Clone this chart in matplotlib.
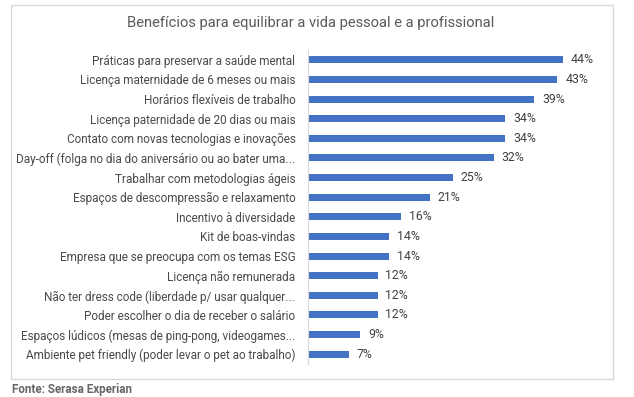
import matplotlib.pyplot as plt
from matplotlib.patches import Rectangle

plt.rcParams['font.family'] = ['Roboto', 'DejaVu Sans']

# dados
categorias = [
    "Práticas para preservar a saúde mental",
    "Licença maternidade de 6 meses ou mais",
    "Horários flexíveis de trabalho",
    "Licença paternidade de 20 dias ou mais",
    "Contato com novas tecnologias e inovações",
    "Day-off (folga no dia do aniversário ou ao bater uma...",
    "Trabalhar com metodologias ágeis",
    "Espaços de descompressão e relaxamento",
    "Incentivo à diversidade",
    "Kit de boas-vindas",
    "Empresa que se preocupa com os temas ESG",
    "Licença não remunerada",
    "Não ter dress code (liberdade p/ usar qualquer...",
    "Poder escolher o dia de receber o salário",
    "Espaços lúdicos (mesas de ping-pong, videogames...",
    "Ambiente pet friendly (poder levar o pet ao trabalho)",
]
valores = [44, 43, 39, 34, 34, 32, 25, 21, 16, 14, 14, 12, 12, 12, 9, 7]

W, H = 634, 397
fig = plt.figure(figsize=(W / 100, H / 100), dpi=100)

# moldura cinza
fig.patches.append(Rectangle((11 / W, 1 - 379 / H), 602 / W, 374 / H,
                             transform=fig.transFigure, fill=False,
                             edgecolor="#d9d9d9", linewidth=1))

ax = fig.add_axes([308 / W, 1 - 364 / H, 292 / W, 314 / H])
pos = list(range(len(categorias)))
ax.barh(pos, valores, height=0.36, color="#4472c4")
ax.set_ylim(len(categorias) - 0.5, -0.5)
ax.set_xlim(0, 292 / 5.8)

for p, v in zip(pos, valores):
    ax.text(v + 1.35, p, f"{v}%", va="center", ha="left", fontsize=8.8, color="#404040")

ax.set_yticks(pos)
ax.set_yticklabels(categorias, fontsize=8.5, color="#4a4a4a")
ax.tick_params(axis="y", length=0, pad=9)
ax.set_xticks([])
for s in ["top", "right", "bottom"]:
    ax.spines[s].set_visible(False)
ax.spines["left"].set_color("#d9d9d9")

fig.text(311 / W, 1 - 23 / H, "Benefícios para equilibrar a vida pessoal e a profissional",
         ha="center", va="center", fontsize=10.6, color="#595959")
fig.text(12 / W, 1 - 389 / H, "Fonte: Serasa Experian", ha="left", va="center",
         fontsize=8.4, fontweight="bold", color="#666666")

fig.savefig("out.png", dpi=100)
